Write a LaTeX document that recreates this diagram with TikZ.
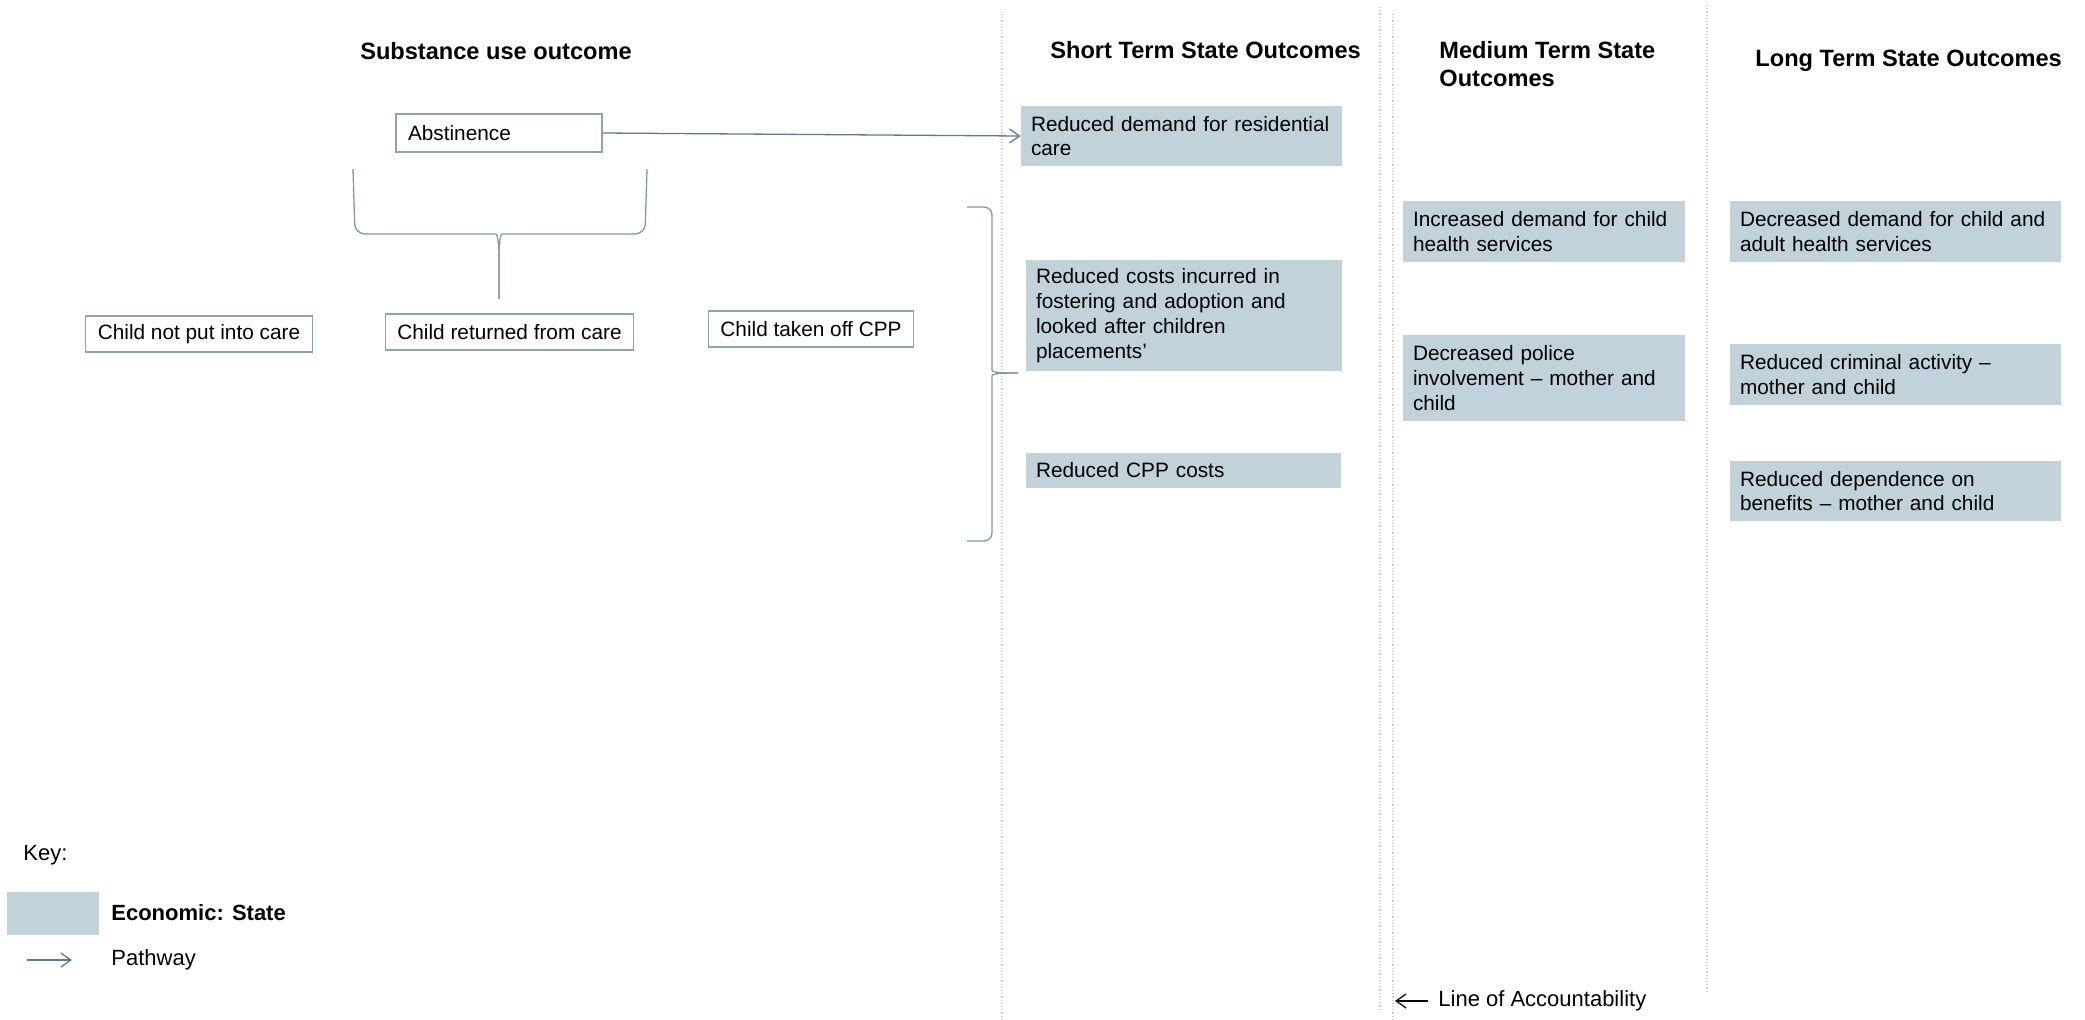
\documentclass[tikz,border=0pt]{standalone}
\usepackage{fontspec}
\setmainfont{Liberation Sans}
\usetikzlibrary{arrows.meta,positioning}
\definecolor{econfill}{HTML}{C1D2DA}
\definecolor{boxline}{HTML}{8DA5B2}
\definecolor{pathcol}{HTML}{5E7D8C}
\definecolor{bracecol}{HTML}{7F99A6}
\definecolor{sepcol}{HTML}{C9CFD3}

\begin{document}
\begin{tikzpicture}[
  x=0.5pt,y=-0.5pt,
  every node/.style={font=\fontsize{10.4}{12.4}\selectfont},
  head/.style={font=\fontsize{11.8}{14}\selectfont\bfseries,inner sep=0pt,align=left},
  outcome/.style={draw=boxline,line width=0.65pt,inner xsep=6pt,inner ysep=0pt,minimum height=18pt,align=left},
  econ/.style={fill=econfill,inner xsep=5pt,inner ysep=0pt,align=left,text width=#1},
  pw/.style={-{Straight Barb[length=5pt,width=7pt]},draw=pathcol,line width=0.65pt},
  brace/.style={draw=bracecol,line width=0.65pt,rounded corners=5pt},
  sep/.style={draw=sepcol,line width=0.6pt,densely dotted},
  keytxt/.style={font=\fontsize{11}{13}\selectfont,inner sep=0pt,anchor=west}
]
\useasboundingbox (0,0) rectangle (2085,1019);

% column separators
\draw[sep] (1002,14) -- (1002,1019);
\draw[sep] (1380,7) -- (1380,1010);
\draw[sep] (1393,14) -- (1393,1019);
\draw[sep] (1707,5) -- (1707,993);

% headings
\node[head] (subs) at (496,51) {Substance use outcome};
\node[head,anchor=west] (short) at (1050,50) {Short Term State Outcomes};
\node[head,anchor=west] (medium) at (1439,64) {Medium Term State\\Outcomes};
\node[head,anchor=west] (long) at (1755,61) {Long Term State Outcomes};

% substance use outcomes
\node[outcome,text width=91pt,minimum height=19pt] (abst) at (499,133) {Abstinence};
\node[outcome] (notcare) at (199,334) {Child not put into care};
\node[outcome] (retcare) at (509.5,332) {Child returned from care};
\node[outcome] (offcpp) at (811,329) {Child taken off CPP};

% short term
\node[econ=150.5pt,minimum height=30pt] (resid) at (1181.5,136) {Reduced demand for residential\\care};
\node[econ=148pt,minimum height=55.5pt] (foster) at (1184,315.5) {Reduced costs incurred in\\fostering and adoption and\\looked after children\\placements’};
\node[econ=147.5pt,minimum height=17.5pt] (cppcost) at (1183.5,470.5) {Reduced CPP costs};

% medium term
\node[econ=131pt,minimum height=30.5pt] (childhs) at (1544,231.5) {Increased demand for child\\health services};
\node[econ=131pt,minimum height=43pt] (police) at (1544,378) {Decreased police\\involvement – mother and\\child};

% long term
\node[econ=155.5pt,minimum height=30.5pt] (adulths) at (1895.5,231.5) {Decreased demand for child and\\adult health services};
\node[econ=155.5pt,minimum height=30.5pt] (crime) at (1895.5,374.5) {Reduced criminal activity –\\mother and child};
\node[econ=155.5pt,minimum height=30pt] (benefit) at (1895.5,491) {Reduced dependence on\\benefits – mother and child};

\draw[pw] (abst.east) -- (resid.west);

% braces
\draw[brace] (353,169) -- (355,234) -- (486,234) to[out=0,in=90] (499,262) -- (499,299);
\draw[brace] (647,169) -- (645,234) -- (512,234) to[out=180,in=90] (499,262) -- (499,299);
\draw[brace,rounded corners=4pt] (967,207) -- (992,207) -- (992,362) to[out=-90,in=180] (1018,373);
\draw[brace,rounded corners=4pt] (1018,373) to[out=180,in=90] (992,384) -- (992,541) -- (967,541);

% key
\node[keytxt] (key) at (23,855) {Key:};
\node[fill=econfill,minimum width=46pt,minimum height=21.5pt,inner sep=0pt] (keybox) at (53,913.5) {};
\node[keytxt,font=\fontsize{11}{13}\selectfont\bfseries] (keyecon) at (111,913) {Economic: State};
\node[keytxt] (keypw) at (111,960) {Pathway};
\coordinate (pwtail) at (27,960);
\draw[pw] (pwtail) -- ([xshift=-19.5pt]keypw.west);

% accountability
\node[keytxt] (loa) at (1438,1001) {Line of Accountability};
\coordinate (acc) at (1395,1001);
\draw[-{Straight Barb[length=5pt,width=7pt]},line width=0.6pt] ([xshift=-5pt]loa.west) -- (acc);
\end{tikzpicture}
\end{document}
